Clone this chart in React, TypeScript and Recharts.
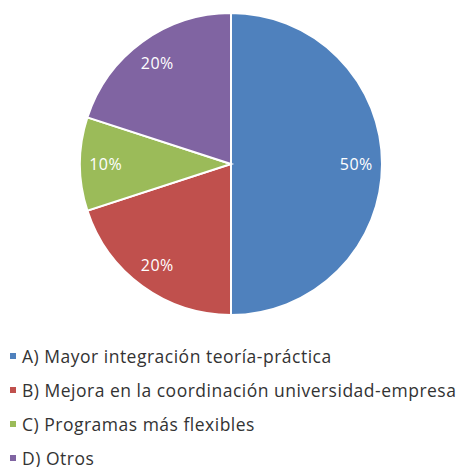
import { PieChart, Pie, Cell, Legend } from 'recharts';

const categories = [
  'A) Mayor integración teoría-práctica',
  'B) Mejora en la coordinación universidad-empresa',
  'C) Programas más flexibles',
  'D) Otros',
];
const values = [50, 20, 10, 20];
const colors = ['#4F81BD', '#C0504D', '#9BBB59', '#8064A2'];

const data = categories.map((name, i) => ({ name, value: values[i] }));

const RADIAN = Math.PI / 180;

const renderLabel = ({ cx, cy, midAngle, outerRadius, percent }: any) => {
  const r = outerRadius * 0.83;
  const x = cx + r * Math.cos(-midAngle * RADIAN);
  const y = cy + r * Math.sin(-midAngle * RADIAN);
  return (
    <text
      x={x}
      y={y}
      fill="#ffffff"
      textAnchor="middle"
      dominantBaseline="central"
      fontSize={16}
      fontFamily="'Open Sans', sans-serif"
      letterSpacing={0.5}
    >
      {`${Math.round(percent * 100)}%`}
    </text>
  );
};

const renderLegend = () => (
  <div style={{ fontFamily: "'Open Sans', sans-serif", fontSize: 17.5, letterSpacing: 0.5, color: '#333333' }}>
    {data.map((d, i) => (
      <div
        key={d.name}
        style={{ display: 'flex', alignItems: 'center', height: 18, lineHeight: '18px', marginBottom: i < data.length - 1 ? 16 : 0 }}
      >
        <span style={{ width: 6, height: 6, background: colors[i], marginRight: 6, display: 'inline-block' }} />
        <span>{d.name}</span>
      </div>
    ))}
  </div>
);

export default function App() {
  return (
    <div style={{ position: 'absolute', left: 0, top: 0, background: '#fff' }}>
      <PieChart width={463} height={467} margin={{ top: 0, right: 0, bottom: 0, left: 0 }}>
        <Pie
          data={data}
          dataKey="value"
          nameKey="name"
          cx={231}
          cy={164}
          outerRadius={151}
          startAngle={90}
          endAngle={-270}
          stroke="#ffffff"
          strokeWidth={2}
          label={renderLabel}
          labelLine={false}
          isAnimationActive={false}
        >
          {data.map((d, i) => (
            <Cell key={d.name} fill={colors[i]} />
          ))}
        </Pie>
        <Legend
          content={renderLegend}
          wrapperStyle={{ position: 'absolute', left: 10, top: 347, width: 453 }}
        />
      </PieChart>
    </div>
  );
}
